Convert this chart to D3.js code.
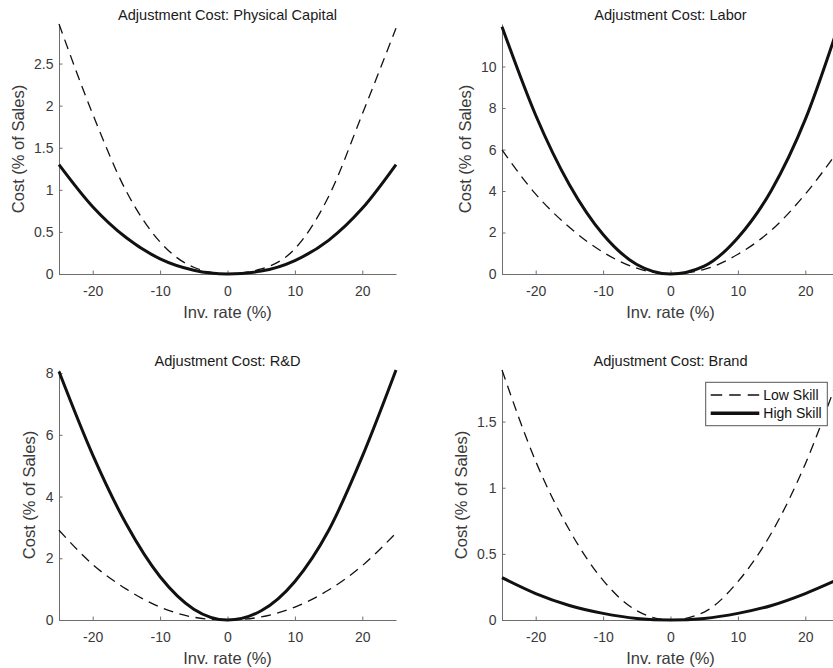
<!DOCTYPE html>
<html>
<head>
<meta charset="utf-8">
<script src="https://cdn.jsdelivr.net/npm/d3@7"></script>
<style>
  body { margin: 0; background: #fff; }
  svg { display: block; font-family: "Liberation Sans", Arial, Helvetica, sans-serif; }
</style>
</head>
<body>
<svg id="chart" width="833" height="668"></svg>
<script>
// values, every 5 points of investment rate
const invRate = [-25, -20, -15, -10, -5, 0, 5, 10, 15, 20, 25];

const physLow = [2.97, 1.90, 0.98, 0.38, 0.08, 0, 0.06, 0.30, 0.92, 1.90, 2.92];
const physHigh = [1.30, 0.80, 0.43, 0.18, 0.045, 0, 0.035, 0.16, 0.40, 0.78, 1.30];

const laborLow = [5.98, 3.85, 2.25, 1.05, 0.28, 0, 0.22, 0.95, 2.12, 3.85, 6.0];
const laborHigh = [11.92, 7.65, 4.3, 1.9, 0.46, 0, 0.38, 1.75, 4.05, 7.45, 12.05];

const rdLow = [2.91, 1.80, 1.0, 0.42, 0.09, 0, 0.10, 0.42, 0.97, 1.76, 2.82];
const rdHigh = [8.05, 5.35, 3.1, 1.4, 0.35, 0, 0.30, 1.25, 2.9, 5.3, 8.1];

const brandLow = [1.89, 1.2, 0.68, 0.3, 0.07, 0, 0.06, 0.29, 0.66, 1.18, 1.85];
const brandHigh = [0.32, 0.2, 0.11, 0.05, 0.012, 0, 0.012, 0.05, 0.11, 0.2, 0.31];

const xTicks = [-20, -10, 0, 10, 20];
const physTicks = [0, 0.5, 1, 1.5, 2, 2.5];
const laborTicks = [0, 2, 4, 6, 8, 10];
const rdTicks = [0, 2, 4, 6, 8];
const brandTicks = [0, 0.5, 1, 1.5];

const titles = [
  "Adjustment Cost: Physical Capital",
  "Adjustment Cost: Labor",
  "Adjustment Cost: R&D",
  "Adjustment Cost: Brand"
];
const seriesNames = ["Low Skill", "High Skill"];
const xLabel = "Inv. rate (%)";
const yLabel = "Cost (% of Sales)";

const panelData = [
  { low: physLow, high: physHigh, ticks: physTicks },
  { low: laborLow, high: laborHigh, ticks: laborTicks },
  { low: rdLow, high: rdHigh, ticks: rdTicks },
  { low: brandLow, high: brandHigh, ticks: brandTicks }
];

// subplot positions (top-left corner of each axes box)
const panelPos = [[59, 24], [502, 24], [59, 370], [502, 370]];
const plotW = 337;
const plotH = 250;

const svg = d3.select("#chart");
const axisColor = "#6e6e6e";
const textColor = "#3a3a3a";

const drawPanel = (i) => {
  const d = panelData[i];
  const g = svg.append("g")
    .attr("transform", `translate(${panelPos[i][0]},${panelPos[i][1]})`);

  const x = d3.scaleLinear().domain([-25, 25]).range([0, plotW]);
  const yMax = d3.max(d.low.concat(d.high));
  const y = d3.scaleLinear().domain([0, yMax]).range([plotH, 0]);

  // axes, ticks pointing inwards like matlab
  const xAxis = g.append("g")
    .attr("transform", `translate(0,${plotH})`)
    .call(d3.axisBottom(x).tickValues(xTicks).tickFormat(v => String(v))
      .tickSizeInner(-3.5).tickSizeOuter(0).tickPadding(12.5));

  const yAxis = g.append("g")
    .call(d3.axisLeft(y).tickValues(d.ticks).tickFormat(v => String(v))
      .tickSizeInner(-3.5).tickSizeOuter(0).tickPadding(5.5));

  [xAxis, yAxis].forEach(a => {
    a.select(".domain").attr("stroke", axisColor);
    a.selectAll(".tick line").attr("stroke", axisColor);
    a.selectAll(".tick text")
      .attr("fill", textColor)
      .style("font-size", "14px")
      .style("font-family", "'Liberation Sans', Arial, sans-serif");
  });

  g.append("text")
    .attr("x", plotW / 2)
    .attr("y", -4)
    .attr("text-anchor", "middle")
    .attr("fill", "#1a1a1a")
    .style("font-size", "14.6px")
    .text(titles[i]);

  g.append("text")
    .attr("x", plotW / 2)
    .attr("y", plotH + 43.5)
    .attr("text-anchor", "middle")
    .attr("fill", textColor)
    .style("font-size", "16.5px")
    .text(xLabel);

  const tickBox = yAxis.node().getBBox();
  g.append("text")
    .attr("transform", `translate(${tickBox.x - 16},${plotH / 2}) rotate(-90)`)
    .attr("text-anchor", "middle")
    .attr("dy", "0.35em")
    .attr("fill", textColor)
    .style("font-size", "16.5px")
    .text(yLabel);

  const line = d3.line()
    .x((v, k) => x(invRate[k]))
    .y(v => y(v))
    .curve(d3.curveMonotoneX);

  g.append("path")
    .datum(d.low)
    .attr("fill", "none")
    .attr("stroke", "#111")
    .attr("stroke-width", 1.3)
    .attr("stroke-dasharray", "10,6.5")
    .attr("d", line);

  g.append("path")
    .datum(d.high)
    .attr("fill", "none")
    .attr("stroke", "#111")
    .attr("stroke-width", 3)
    .attr("d", line);

  return g;
};

const groups = [0, 1, 2, 3].map(drawPanel);

// legend sits in the brand panel
const leg = groups[3].append("g").attr("transform", "translate(203.7,12.3)");
leg.append("rect")
  .attr("width", 121.6)
  .attr("height", 43.4)
  .attr("fill", "#fff")
  .attr("stroke", "#555")
  .attr("stroke-width", 1);

seriesNames.forEach((name, k) => {
  const ly = 12.7 + k * 18.3;
  leg.append("line")
    .attr("x1", 5).attr("x2", 53.6)
    .attr("y1", ly).attr("y2", ly)
    .attr("stroke", "#111")
    .attr("stroke-width", k === 0 ? 1.3 : 3.5)
    .attr("stroke-dasharray", k === 0 ? "11.5,7" : null);
  leg.append("text")
    .attr("x", 57.6)
    .attr("y", ly)
    .attr("dy", "0.35em")
    .attr("fill", "#111")
    .style("font-size", "14px")
    .text(name);
});
</script>
</body>
</html>
